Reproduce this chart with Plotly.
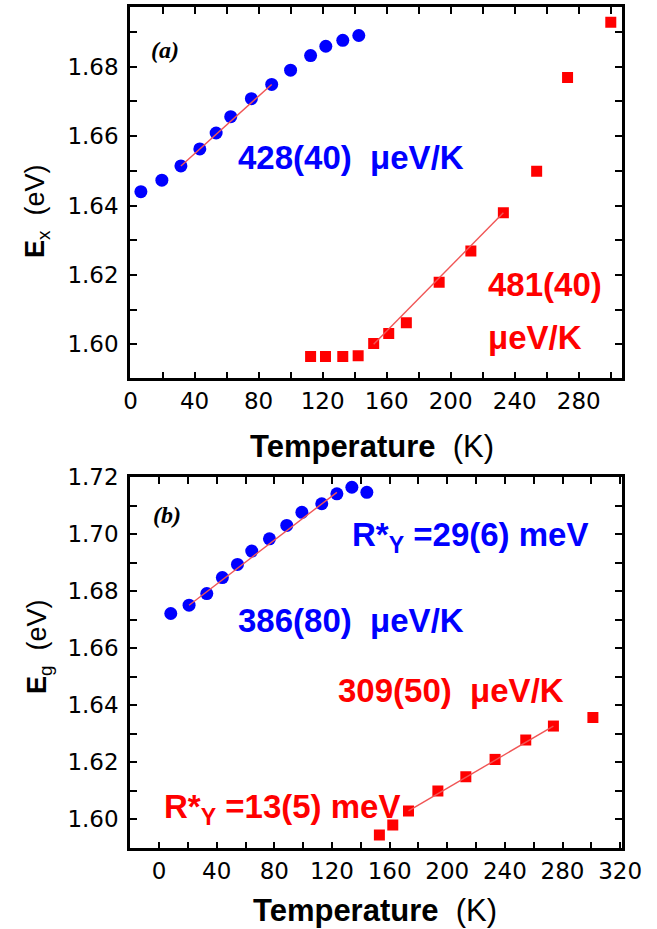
import plotly.graph_objects as go

W, H = 657, 929

# ---------------- panel (a) data ----------------
a_T_blue = [6.5, 19.6, 31.5, 43.3, 53.5, 62.6, 75.5, 88.2, 100.0, 112.5, 122.0, 132.6, 142.6]
a_E_blue = [1.6440, 1.6473, 1.6514, 1.6563, 1.6609, 1.6656, 1.6708, 1.6749, 1.6790, 1.6832, 1.6859, 1.6876, 1.6890]
a_T_red = [112.5, 121.8, 132.6, 142.2, 151.9, 161.3, 172.3, 192.8, 212.6, 232.9, 253.7, 273.0, 300.0]
a_E_red = [1.5965, 1.5965, 1.5965, 1.5967, 1.6002, 1.6031, 1.6062, 1.6179, 1.6269, 1.6379, 1.6499, 1.6769, 1.6928]
a_fit_blue_T = [31.5, 88.2]
a_fit_blue_E = [1.6514, 1.6749]
a_fit_red_T = [151.9, 232.9]
a_fit_red_E = [1.6000, 1.6379]
a_xticks = [0, 40, 80, 120, 160, 200, 240, 280]
a_yticks = [1.60, 1.62, 1.64, 1.66, 1.68]

# ---------------- panel (b) data ----------------
b_T_blue = [8.1, 20.8, 33.1, 43.9, 54.4, 64.3, 76.6, 88.6, 99.1, 112.9, 123.4, 133.8, 144.2]
b_E_blue = [1.6722, 1.6751, 1.6792, 1.6848, 1.6894, 1.6941, 1.6984, 1.7031, 1.7077, 1.7107, 1.7142, 1.7165, 1.7147]
b_T_red = [152.9, 162.2, 173.1, 193.5, 212.9, 233.2, 254.5, 273.7, 301.1]
b_E_red = [1.5945, 1.5980, 1.6029, 1.6099, 1.6149, 1.6210, 1.6278, 1.6327, 1.6357]
b_fit_blue_T = [20.8, 123.4]
b_fit_blue_E = [1.6751, 1.7147]
b_fit_red_T = [173.1, 273.7]
b_fit_red_E = [1.6029, 1.6327]
b_xticks = [0, 40, 80, 120, 160, 200, 240, 280, 320]
b_yticks = [1.60, 1.62, 1.64, 1.66, 1.68, 1.70, 1.72]

BLUE = "#0000FF"
RED = "#FF0000"
FIT = "#F05555"


def px(x):
    return x / W


def py(y):
    return 1 - y / H


fig = go.Figure()

# panel a
fig.add_trace(go.Scatter(x=a_T_blue, y=a_E_blue, mode="markers", xaxis="x", yaxis="y",
                         marker=dict(symbol="circle", size=13, color=BLUE, line=dict(width=0))))
fig.add_trace(go.Scatter(x=a_T_red, y=a_E_red, mode="markers", xaxis="x", yaxis="y",
                         marker=dict(symbol="square", size=11, color=RED, line=dict(width=0))))
fig.add_trace(go.Scatter(x=a_fit_blue_T, y=a_fit_blue_E, mode="lines", xaxis="x", yaxis="y",
                         line=dict(color=FIT, width=1.4)))
fig.add_trace(go.Scatter(x=a_fit_red_T, y=a_fit_red_E, mode="lines", xaxis="x", yaxis="y",
                         line=dict(color=FIT, width=1.4)))

# panel b
fig.add_trace(go.Scatter(x=b_T_blue, y=b_E_blue, mode="markers", xaxis="x2", yaxis="y2",
                         marker=dict(symbol="circle", size=13, color=BLUE, line=dict(width=0))))
fig.add_trace(go.Scatter(x=b_T_red, y=b_E_red, mode="markers", xaxis="x2", yaxis="y2",
                         marker=dict(symbol="square", size=11, color=RED, line=dict(width=0))))
fig.add_trace(go.Scatter(x=b_fit_blue_T, y=b_fit_blue_E, mode="lines", xaxis="x2", yaxis="y2",
                         line=dict(color=FIT, width=1.4)))
fig.add_trace(go.Scatter(x=b_fit_red_T, y=b_fit_red_E, mode="lines", xaxis="x2", yaxis="y2",
                         line=dict(color=FIT, width=1.4)))

tickfont = dict(family="DejaVu Sans", size=23, color="black")
common = dict(showline=True, linecolor="black", linewidth=2.6, mirror="ticks",
              ticks="inside", ticklen=7, tickwidth=2, tickcolor="black",
              showgrid=False, zeroline=False, tickfont=tickfont, automargin=False)

xd = [px(130), px(622)]
fig.update_layout(
    template="none",
    xaxis=dict(domain=xd, anchor="y", range=[-0.3, 307], tickvals=a_xticks,
               minor=dict(ticks="inside", ticklen=7, tickwidth=2, dtick=20, tick0=0, tickcolor="black"),
               **common),
    yaxis=dict(domain=[py(378.3), py(6.7)], anchor="x", range=[1.5902, 1.6973], tickvals=a_yticks,
               tickformat=".2f", ticklabelstandoff=4,
               minor=dict(ticks="inside", ticklen=7, tickwidth=2, dtick=0.01, tick0=1.60, tickcolor="black"),
               **common),
    xaxis2=dict(domain=xd, anchor="y2", range=[-20.2, 321.3], tickvals=b_xticks,
                minor=dict(ticks="inside", ticklen=7, tickwidth=2, dtick=20, tick0=0, tickcolor="black"),
                **common),
    yaxis2=dict(domain=[py(848.3), py(476.7)], anchor="x2", range=[1.5898, 1.7202], tickvals=b_yticks,
                tickformat=".2f", ticklabelstandoff=4,
                minor=dict(ticks="inside", ticklen=7, tickwidth=2, dtick=0.01, tick0=1.60, tickcolor="black"),
                **common),
)

BF = "Liberation Sans"
ann = []


def add(text, x, y, size=33, color="black", xanchor="left", yanchor="middle", angle=0, family=BF):
    ann.append(dict(text=text, x=px(x), y=py(y), xref="paper", yref="paper",
                    xanchor=xanchor, yanchor=yanchor, showarrow=False, textangle=angle,
                    font=dict(family=family, size=size, color=color)))


NB = "\u00a0"
# panel a annotations
add("<b><i>(a)</i></b>", 165, 50, size=24, xanchor="center", family="Liberation Serif")
add("<b>428(40)" + NB + NB + "μeV/K</b>", 236, 157, color=BLUE)
add("<b>481(40)</b>", 486, 285, color=RED)
add("<b>μeV/K</b>", 486, 337, color=RED)
add("<b>Temperature</b>" + NB + NB + "(K)", 372, 446, size=31, xanchor="center")
add("<b>E</b><sub>x</sub>" + NB + NB + "(eV)", 37, 212, size=27, xanchor="center", angle=-90)

# panel b annotations
add("<b><i>(b)</i></b>", 167, 515, size=24, xanchor="center", family="Liberation Serif")
add("<b>R*<sub>Y</sub>" + NB + "=29(6)" + NB + "meV</b>", 350, 537, color=BLUE)
add("<b>386(80)" + NB + NB + "μeV/K</b>", 236, 620, color=BLUE)
add("<b>309(50)" + NB + NB + "μeV/K</b>", 336, 690, color=RED)
add("<b>R*<sub>Y</sub>" + NB + "=13(5)" + NB + "meV</b>", 162, 809, color=RED)
add("<b>Temperature</b>" + NB + NB + "(K)", 375, 910, size=31, xanchor="center")
add("<b>E</b><sub>g</sub>" + NB + NB + "(eV)", 39, 647, size=27, xanchor="center", angle=-90)

fig.update_layout(
    width=W, height=H, margin=dict(l=0, r=0, t=0, b=0, pad=0),
    paper_bgcolor="white", plot_bgcolor="white",
    showlegend=False, annotations=ann,
)

fig.write_html("out.html")
